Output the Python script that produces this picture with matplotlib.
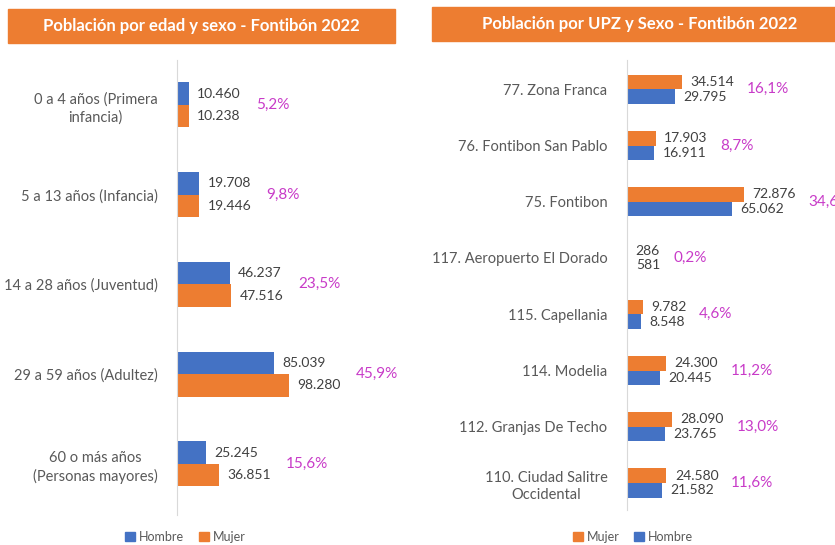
import numpy as np
import matplotlib
matplotlib.use("Agg")
import matplotlib.pyplot as plt
from matplotlib.patches import Rectangle, Patch

plt.rcParams['font.family'] = ['Lato', 'DejaVu Sans']

# data: poblacion por edad y sexo
edad_cats = ["0 a 4 años (Primera\ninfancia)", "5 a 13 años (Infancia)",
             "14 a 28 años (Juventud)", "29 a 59 años (Adultez)",
             "60 o más años\n(Personas mayores)"]
hombre_edad = [10460, 19708, 46237, 85039, 25245]
mujer_edad = [10238, 19446, 47516, 98280, 36851]
pct_edad = ["5,2%", "9,8%", "23,5%", "45,9%", "15,6%"]

# data: poblacion por UPZ y sexo
upz_cats = ["77. Zona Franca", "76. Fontibon San Pablo", "75. Fontibon",
            "117. Aeropuerto El Dorado", "115. Capellania", "114. Modelia",
            "112. Granjas De Techo", "110. Ciudad Salitre\nOccidental"]
mujer_upz = [34514, 17903, 72876, 286, 9782, 24300, 28090, 24580]
hombre_upz = [29795, 16911, 65062, 581, 8548, 20445, 23765, 21582]
pct_upz = ["16,1%", "8,7%", "34,6%", "0,2%", "4,6%", "11,2%", "13,0%", "11,6%"]

BLUE = "#4472C4"
ORANGE = "#ED7D31"
GRAY = "#595959"
NUMCOL = "#404040"
PINK = "#C83BC8"

W, H = 835, 545
fig = plt.figure(figsize=(W / 100, H / 100), dpi=100)


def fmt(v):
    return f"{v:,}".replace(",", ".")


def px_axes(x0, y0, x1, y1):
    # pixel box (from top-left) -> figure axes
    return fig.add_axes([x0 / W, 1 - y1 / H, (x1 - x0) / W, (y1 - y0) / H])


def banner(x0, y0, x1, y1, text, tx):
    fig.patches.append(Rectangle((x0 / W, 1 - y1 / H), (x1 - x0) / W, (y1 - y0) / H,
                                 transform=fig.transFigure, color=ORANGE, zorder=0))
    fig.text(tx / W, 1 - (y0 + y1) / 2 / H, text, ha='center', va='center',
             color='white', fontsize=12, fontweight='bold')


def panel(ax, cats, top_vals, bot_vals, top_col, bot_col, pcts, xmax, ylim, h, gap):
    y = np.arange(len(cats))
    ax.barh(y - h / 2, top_vals, height=h, color=top_col)
    ax.barh(y + h / 2, bot_vals, height=h, color=bot_col)
    ax.set_xlim(0, xmax)
    ax.set_ylim(*ylim)
    ax.set_yticks(y)
    ax.set_yticklabels(cats, color=GRAY, fontsize=10.5, linespacing=1.35,
                       multialignment='center')
    ax.tick_params(axis='y', length=0, pad=14)
    ax.set_xticks([])
    for s in ['top', 'right', 'bottom']:
        ax.spines[s].set_visible(False)
    ax.spines['left'].set_color('#D9D9D9')
    ax.set_facecolor('none')
    for i in y:
        t1 = ax.annotate(fmt(top_vals[i]), (top_vals[i], i - h / 2), xytext=(6, 0),
                         textcoords='offset points', va='center', ha='left',
                         color=NUMCOL, fontsize=10)
        t2 = ax.annotate(fmt(bot_vals[i]), (bot_vals[i], i + h / 2), xytext=(6, 0),
                         textcoords='offset points', va='center', ha='left',
                         color=NUMCOL, fontsize=10)
        ref = t1 if top_vals[i] >= bot_vals[i] else t2
        ax.annotate(pcts[i], (1, i), xycoords=(ref, 'data'), xytext=(gap, 0),
                    textcoords='offset points', va='center', ha='left',
                    color=PINK, fontsize=11, annotation_clip=False)


def legend(handles, cx):
    fig.legend(handles=handles, loc='center', bbox_to_anchor=(cx / W, 1 - 537 / H),
               ncol=2, frameon=False, fontsize=9, labelcolor=GRAY,
               handlelength=0.8, handleheight=0.8, handletextpad=0.3,
               columnspacing=1.2)


# left panel
banner(8, 9, 395, 43, "Población por edad y sexo - Fontibón 2022", 201.5)
ax1 = px_axes(177, 60, 400, 515)
panel(ax1, edad_cats, hombre_edad, mujer_edad, BLUE, ORANGE, pct_edad,
      195600, (4.57, -0.5), 0.25, 11)
legend([Patch(color=BLUE, label='Hombre'), Patch(color=ORANGE, label='Mujer')], 185)

# right panel
banner(432, 7, 835, 41, "Población por UPZ y Sexo - Fontibón 2022", 640)
ax2 = px_axes(627, 60, 835, 510)
panel(ax2, upz_cats, mujer_upz, hombre_upz, ORANGE, BLUE, pct_upz,
      129500, (7.48, -0.52), 0.26, 9)
legend([Patch(color=ORANGE, label='Mujer'), Patch(color=BLUE, label='Hombre')], 633)

fig.savefig("out.png", dpi=100)
